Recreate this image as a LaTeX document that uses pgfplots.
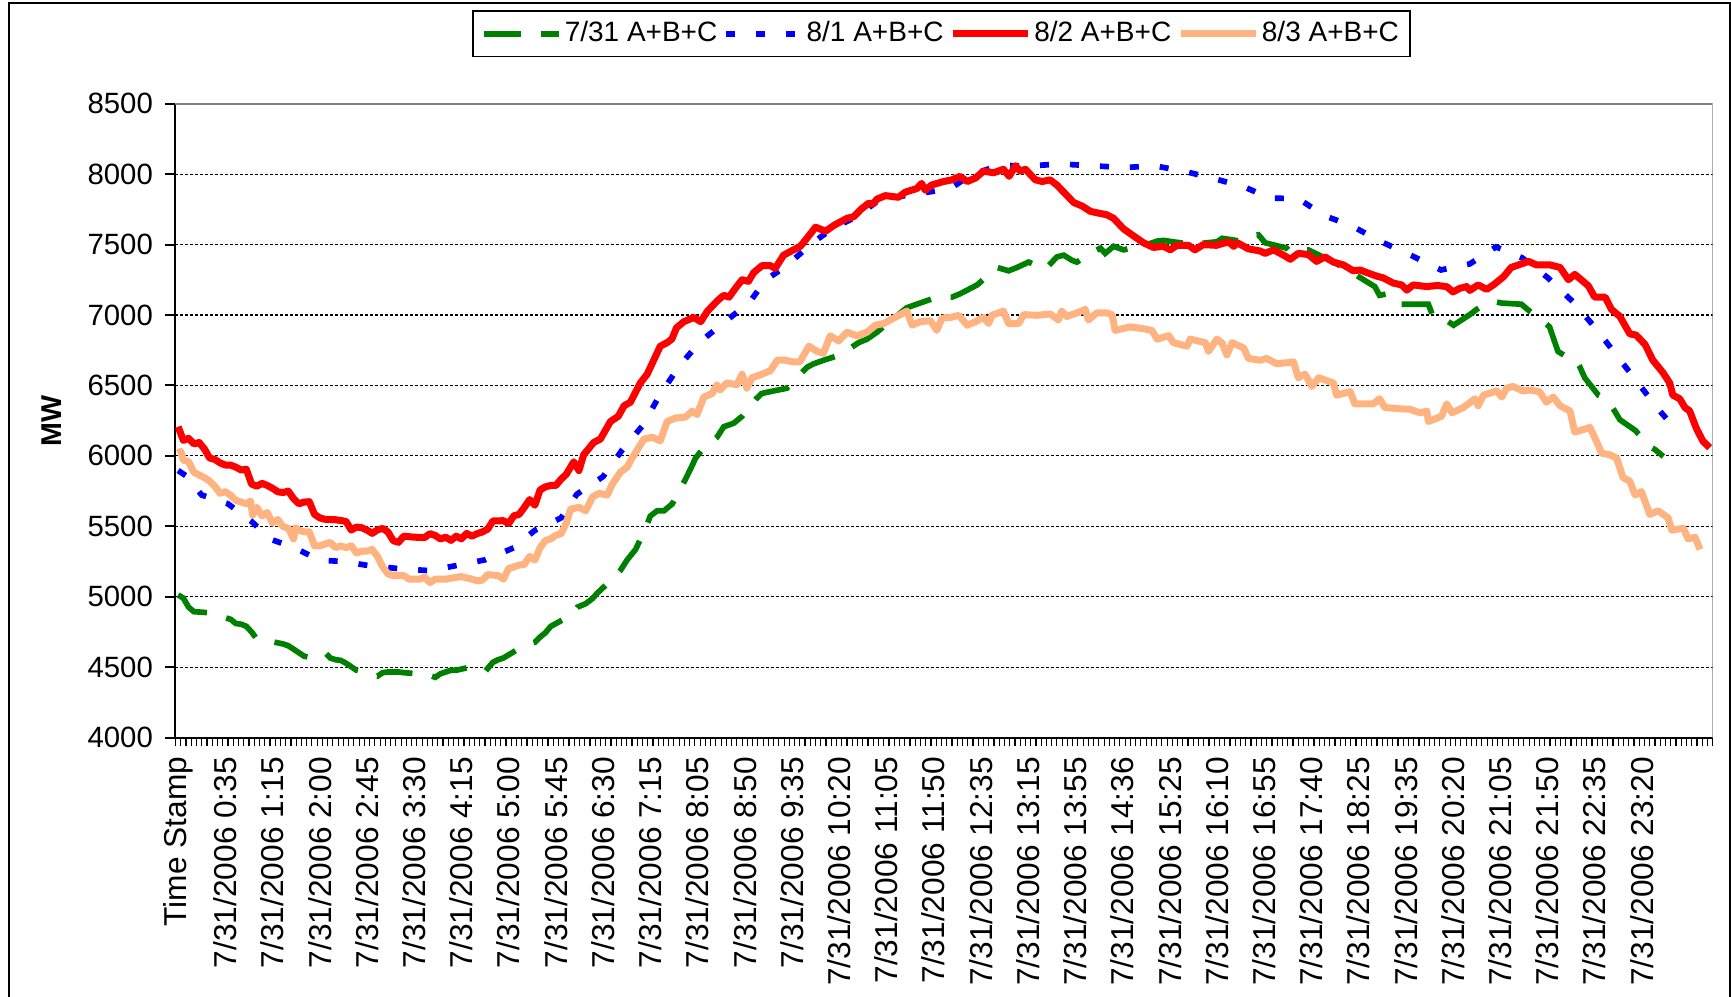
\documentclass[border=0pt]{standalone}
\usepackage{fontspec}
\setmainfont{Liberation Sans}
\usepackage{pgfplots}
\pgfplotsset{compat=1.18}
\definecolor{xlgreen}{RGB}{0,128,0}
\definecolor{xlblue}{RGB}{0,0,255}
\definecolor{xlred}{RGB}{255,0,0}
\definecolor{xlorange}{RGB}{255,179,128}
\definecolor{xlgray}{RGB}{128,128,128}
\begin{document}
\begin{tikzpicture}
\useasboundingbox (0,0) rectangle (519.3pt,299.1pt);
\draw[line width=0.6pt] (2.7pt,-10pt) -- (2.7pt,298.1pt) -- (518.85pt,298.1pt) -- (518.85pt,-10pt);
\begin{axis}[
  at={(52.65pt,77.82pt)}, anchor=south west,
  scale only axis, width=461.16pt, height=190.14pt,
  xmin=-0.5, xmax=292.5, ymin=4000, ymax=8500,
  axis lines=left, axis line style={-, line width=0.6pt},
  tick align=outside,
  xtick={0,9,...,279},
  xticklabels={{Time Stamp},{7/31/2006 0:35},{7/31/2006 1:15},{7/31/2006 2:00},{7/31/2006 2:45},{7/31/2006 3:30},{7/31/2006 4:15},{7/31/2006 5:00},{7/31/2006 5:45},{7/31/2006 6:30},{7/31/2006 7:15},{7/31/2006 8:05},{7/31/2006 8:50},{7/31/2006 9:35},{7/31/2006 10:20},{7/31/2006 11:05},{7/31/2006 11:50},{7/31/2006 12:35},{7/31/2006 13:15},{7/31/2006 13:55},{7/31/2006 14:36},{7/31/2006 15:25},{7/31/2006 16:10},{7/31/2006 16:55},{7/31/2006 17:40},{7/31/2006 18:25},{7/31/2006 19:35},{7/31/2006 20:20},{7/31/2006 21:05},{7/31/2006 21:50},{7/31/2006 22:35},{7/31/2006 23:20}},
  minor xtick={-0.5,0.5,...,292.5},
  major x tick style={draw=none},
  minor x tick style={black, line width=0.35pt},
  minor tick length=2.6pt,
  major tick length=3pt,
  ytick={4000,4500,...,8500},
  minor ytick={4500,5000,...,8000},
  minor y tick style={draw=none},
  major y tick style={black, line width=0.6pt},
  yminorgrids,
  minor y grid style={black, line width=0.35pt, dash pattern=on 0.9pt off 0.6pt},
  xticklabel style={yshift=-2.6pt, rotate=90, anchor=east, inner sep=0pt, font=\fontsize{9.5}{10}\selectfont},
  yticklabel style={xshift=-3.6pt, anchor=east, inner sep=0pt, font=\fontsize{8.8}{10}\selectfont},
  /pgf/number format/1000 sep={},
  /pgf/number format/assume math mode=true,
  ylabel={MW},
  ylabel style={at={(axis description cs:-0.0803,0.5)}, anchor=center, font=\bfseries\fontsize{8.6}{10}\selectfont},
  legend columns=4,
  legend style={at={(0.4983,1.1102)}, anchor=center, draw=black, line width=0.5pt,
    font=\fontsize{8.4}{10}\selectfont, inner xsep=2.5pt, inner ysep=1pt,
    nodes={inner xsep=0.8pt},
    /tikz/every even column/.append style={column sep=1pt}},
  legend image code/.code={\draw[#1] (0pt,0pt) -- (22.5pt,0pt);},
]
\addplot[xlgreen, line width=1.7pt, line cap=butt, dash pattern=on 11pt off 6pt] coordinates {
(0,5013) (1,4990) (2,4926) (3,4894) (5,4889) (6,4885) (8,4860) (10,4840) (11,4810) (12,4805) (13,4790) (14,4750) (15,4700) (16,4695) (18,4680) (20,4665) (21,4652) (22,4628) (23,4603) (24,4578) (25,4570) (27,4590) (28,4603) (29,4565) (30,4553) (31,4548) (32,4528) (33,4503) (34,4478) (36,4460) (37,4441) (38,4436) (39,4461) (40,4466) (42,4466) (43,4461) (45,4455) (47,4453) (48,4441) (49,4428) (50,4453) (51,4466) (52,4478) (53,4478) (55,4495) (57,4515) (58,4520) (59,4490) (60,4535) (61,4553) (62,4565) (64,4610) (66,4657) (67,4665) (68,4677) (69,4714) (70,4744) (71,4789) (73,4830) (74.8,4864) (76.1,4926) (77.7,4951) (79,4988) (79.9,5026) (83.1,5138) (84.3,5187) (85.6,5262) (87.2,5336) (89.1,5486) (90,5573) (91.3,5610) (92.6,5610) (94.2,5660) (96.7,5834) (98,5933) (98.6,5983) (99.9,6045) (102.7,6132) (104,6207) (105.9,6232) (107.5,6281) (110.2,6406) (111.2,6443) (112.8,6456) (116,6480) (119.9,6630) (121.2,6655) (123.1,6680) (126.2,6717) (129.7,6804) (131.3,6829) (133.2,6878) (134.8,6928) (138.9,7052) (140.8,7077) (142.7,7102) (144.6,7127) (147.5,7127) (149.1,7152) (150.4,7177) (152.3,7214) (156.1,7338) (158.3,7314) (159.9,7338) (162.1,7376) (165.3,7326) (167.5,7413) (168.8,7425) (170.4,7388) (171.3,7376) (174.5,7450) (175.8,7475) (176.7,7438) (178.3,7488) (180.2,7463) (184.6,7500) (186.6,7525) (187.8,7530) (193.5,7500) (196,7513) (198,7520) (199,7545) (202.4,7525) (204.3,7562) (205.9,7570) (207.2,7513) (211.3,7475) (211.9,7450) (213.8,7463) (215.4,7463) (220.2,7376) (222.1,7338) (228.1,7202) (229,7140) (230.6,7152) (231.9,7127) (233.2,7077) (238.3,7077) (239.3,6978) (240.9,6965) (242.1,6953) (243.1,6928) (246.2,7003) (247.5,7040) (249.1,7077) (250.7,7097) (252.3,7085) (256,7077) (257.6,7028) (259.5,6978) (261.4,6916) (263,6742) (264.6,6705) (266.2,6692) (267.2,6630) (268.1,6555) (270.7,6431) (272.3,6406) (273.6,6331) (274.8,6257) (277.7,6182) (279,6132) (280.2,6070) (281.5,6045) (283.1,5996)
};
\addlegendentry{7/31 A+B+C}
\addplot[xlblue, line width=1.7pt, line cap=butt, dash pattern=on 2.7pt off 6.3pt] coordinates {
(0,5896) (1.5,5859) (4.5,5722) (9.5,5660) (14,5535) (17.5,5410) (22,5350) (27,5260) (31.5,5250) (36.5,5220) (42,5200) (48,5185) (53.5,5225) (58.5,5262) (64,5348) (68,5472) (73,5560) (76,5728) (81,5853) (84.7,6045) (88.5,6213) (91.8,6431) (95.6,6642) (99.5,6810) (103.8,6940) (108.9,7090) (112,7250) (116,7350) (120.5,7500) (124.6,7612) (129.4,7700) (133.8,7823) (138.6,7848) (145.9,7890) (147.2,7898) (150.7,7985) (152.3,8010) (156.4,8062) (162.5,8060) (168.3,8072) (174.2,8060) (180.4,8047) (186.1,8060) (192.2,8017) (197.5,7968) (203,7913) (208.1,7830) (213.5,7827) (218.5,7705) (223.5,7637) (229.3,7521) (235.1,7422) (240.7,7320) (246.2,7363) (251.2,7484) (256.2,7406) (261.1,7264) (265.8,7096) (270,6915) (274,6723) (278,6530) (282,6337) (284.6,6225)
};
\addlegendentry{8/1 A+B+C}
\addplot[xlred, line width=2.1pt, line join=round] coordinates {
(0,6207) (1,6110) (2,6125) (3,6085) (4,6095) (5,6050) (6,5985) (7,5975) (8,5950) (9,5935) (10,5935) (11,5920) (12,5900) (13,5905) (14,5800) (15,5785) (16,5805) (17,5790) (18,5770) (19,5745) (20,5740) (21,5750) (22,5697) (23,5660) (24,5672) (25,5675) (26,5585) (27,5560) (28,5550) (30,5547) (32,5535) (33,5473) (34,5495) (35,5490) (36,5473) (37,5450) (38,5475) (39,5485) (40,5460) (41,5398) (42,5386) (43,5430) (45,5423) (47,5420) (48,5448) (49,5435) (50,5410) (51,5423) (52,5400) (53,5430) (54,5411) (55,5450) (56,5430) (57,5448) (58,5460) (59,5480) (60,5538) (62,5540) (63,5520) (64,5575) (65,5585) (66,5635) (67,5690) (68,5650) (69,5759) (70,5780) (71,5790) (72,5790) (73,5835) (74,5870) (75.4,5958) (76.4,5896) (77.3,6008) (79.2,6095) (80.5,6120) (82.4,6244) (83.9,6281) (85,6356) (86.2,6381) (88.1,6518) (89.4,6580) (91.9,6779) (93.2,6804) (94.1,6829) (95,6910) (96.4,6953) (98.3,6983) (99.6,6953) (100.9,7028) (102.8,7102) (104,7140) (105,7127) (106.2,7189) (107.5,7251) (108.7,7239) (109.7,7301) (111.3,7351) (112.9,7351) (113.8,7331) (115.4,7425) (117.3,7463) (118.6,7488) (120.2,7562) (121.5,7624) (123.4,7595) (125,7637) (127.5,7687) (128.8,7699) (130.1,7749) (131.6,7794) (132.4,7787) (133.2,7823) (134.8,7848) (137.3,7836) (138.6,7873) (140.8,7898) (141.7,7935) (142.4,7886) (143.6,7923) (145.9,7948) (147.5,7960) (149,7985) (150.4,7948) (152,7973) (153.5,8022) (155.4,8010) (157.3,8035) (158.4,7985) (159.6,8060) (160.5,8022) (161.5,8035) (163.4,7960) (164.7,7948) (166.2,7960) (167.5,7923) (169.1,7861) (170.7,7799) (172.3,7774) (173.9,7736) (175.4,7724) (177,7712) (178.3,7687) (180.2,7612) (182.1,7562) (184,7513) (185.9,7480) (187.8,7488) (189.1,7463) (190.4,7495) (192.6,7495) (193.8,7463) (195.4,7500) (197.9,7495) (200.2,7520) (201.2,7488) (201.9,7513) (204,7470) (206.2,7455) (207.2,7438) (208.8,7463) (210.7,7425) (212,7396) (213.5,7438) (215.4,7430) (217,7381) (218.6,7413) (220.2,7376) (222.1,7356) (224,7314) (225.3,7320) (226.6,7301) (228.5,7276) (229.7,7264) (231.6,7227) (233.2,7214) (234.2,7177) (235.4,7214) (238,7202) (240,7210) (241.8,7202) (243,7164) (244.3,7190) (245.6,7202) (246.2,7175) (247.8,7214) (249.4,7182) (250.7,7214) (252.6,7271) (254.1,7338) (255.1,7351) (257.4,7381) (258.9,7356) (261.5,7356) (263.4,7338) (265,7251) (266.2,7289) (267.8,7239) (268.8,7207) (270,7127) (272,7127) (273.2,7040) (274.8,6990) (276.7,6866) (277.9,6858) (279.6,6791) (281.1,6679) (283,6592) (284.3,6518) (284.9,6431) (286.2,6406) (287.2,6344) (288.1,6319) (289.4,6194) (290.6,6107) (291.9,6058)
};
\addlegendentry{8/2 A+B+C}
\addplot[xlorange, line width=2.1pt, line join=round] coordinates {
(0,6020) (0.5,6033) (1,5970) (2,5958) (3,5884) (4,5864) (5,5846) (6,5821) (7,5784) (8,5734) (9,5747) (10,5720) (11,5685) (12,5672) (13,5660) (13.8,5680) (14.2,5580) (15,5635) (16,5573) (17,5598) (18,5523) (19,5548) (20,5498) (21,5486) (22,5411) (22.4,5490) (23,5473) (24,5461) (25,5461) (26,5361) (27,5361) (28,5374) (29,5386) (30,5349) (31,5361) (32,5349) (33,5361) (34,5311) (35,5324) (36,5324) (37,5336) (38,5286) (39,5212) (40,5162) (41,5150) (43,5150) (44,5125) (46,5125) (47,5138) (48,5100) (49,5125) (51,5125) (53,5138) (54,5143) (56,5125) (57,5113) (58,5118) (59,5157) (61,5150) (62,5125) (63,5200) (64,5212) (65,5225) (66,5230) (67,5286) (68,5261) (69,5349) (70,5399) (71,5411) (72,5436) (73,5448) (74,5523) (74.8,5622) (76.4,5635) (77.7,5610) (79,5709) (80.2,5734) (81.8,5722) (82.7,5796) (84.3,5884) (85.6,5921) (86.5,5983) (88.8,6120) (90.4,6132) (91.9,6107) (93.2,6244) (94.8,6269) (96.7,6276) (98,6318) (98.9,6293) (100.2,6418) (101.8,6443) (102.7,6505) (103.3,6468) (104.6,6518) (106.5,6505) (107.5,6580) (108.4,6481) (109.4,6555) (111.3,6580) (112.9,6605) (114.2,6680) (115.6,6680) (117.3,6667) (118.5,6667) (120.2,6779) (121.8,6742) (123,6729) (124.3,6853) (125.9,6816) (127.5,6878) (129.4,6853) (131.3,6878) (132.9,6928) (134.5,6940) (136.4,6978) (138.9,7028) (139.9,6928) (141.4,6953) (143.4,6960) (144.6,6891) (145.6,6978) (147.2,6983) (148.8,6998) (150.4,6928) (152,6953) (153.5,6983) (154.5,6940) (155.1,6998) (157.3,7028) (158.3,6940) (160.2,6940) (161.2,7003) (163.7,6998) (166.2,7008) (167.8,6965) (168.4,7028) (169.4,6990) (171.3,7015) (172.9,7040) (173.5,6965) (175.1,7015) (177,7015) (178,7003) (178.6,6891) (181.5,6916) (184,6903) (185.6,6891) (186.6,6829) (188.8,6854) (189.7,6804) (192.3,6779) (192.9,6829) (195.8,6804) (196.4,6742) (198,6829) (199,6800) (199.9,6717) (200.9,6804) (203.1,6766) (204,6692) (206.2,6679) (207.5,6692) (209.4,6654) (212.6,6667) (213.5,6555) (214.8,6580) (216.1,6493) (217.4,6555) (220.2,6518) (220.8,6431) (223.4,6456) (224.3,6369) (227.8,6369) (229,6406) (230,6344) (232.3,6336) (234.8,6331) (236.7,6306) (238,6318) (238.3,6244) (240.8,6281) (241.8,6369) (242.8,6306) (245,6344) (247.2,6406) (247.8,6356) (248.8,6431) (251.3,6461) (252.3,6418) (253.2,6481) (254.4,6493) (256.4,6461) (257.7,6468) (259.5,6456) (260.8,6381) (262.1,6418) (263.4,6356) (265.3,6319) (266.2,6169) (267.8,6187) (269.1,6202) (270.3,6107) (271.3,6020) (272.9,6008) (274.2,5983) (275.4,5846) (276.7,5821) (277.7,5722) (278.9,5747) (280.5,5585) (282.1,5610) (284,5560) (284.7,5473) (286.9,5486) (287.8,5411) (289.1,5423) (290.1,5336)
};
\addlegendentry{8/3 A+B+C}
\draw[xlgray, line width=0.45pt] (rel axis cs:0,1) -- (rel axis cs:1,1) -- (rel axis cs:1,0);
\end{axis}
\end{tikzpicture}
\end{document}
